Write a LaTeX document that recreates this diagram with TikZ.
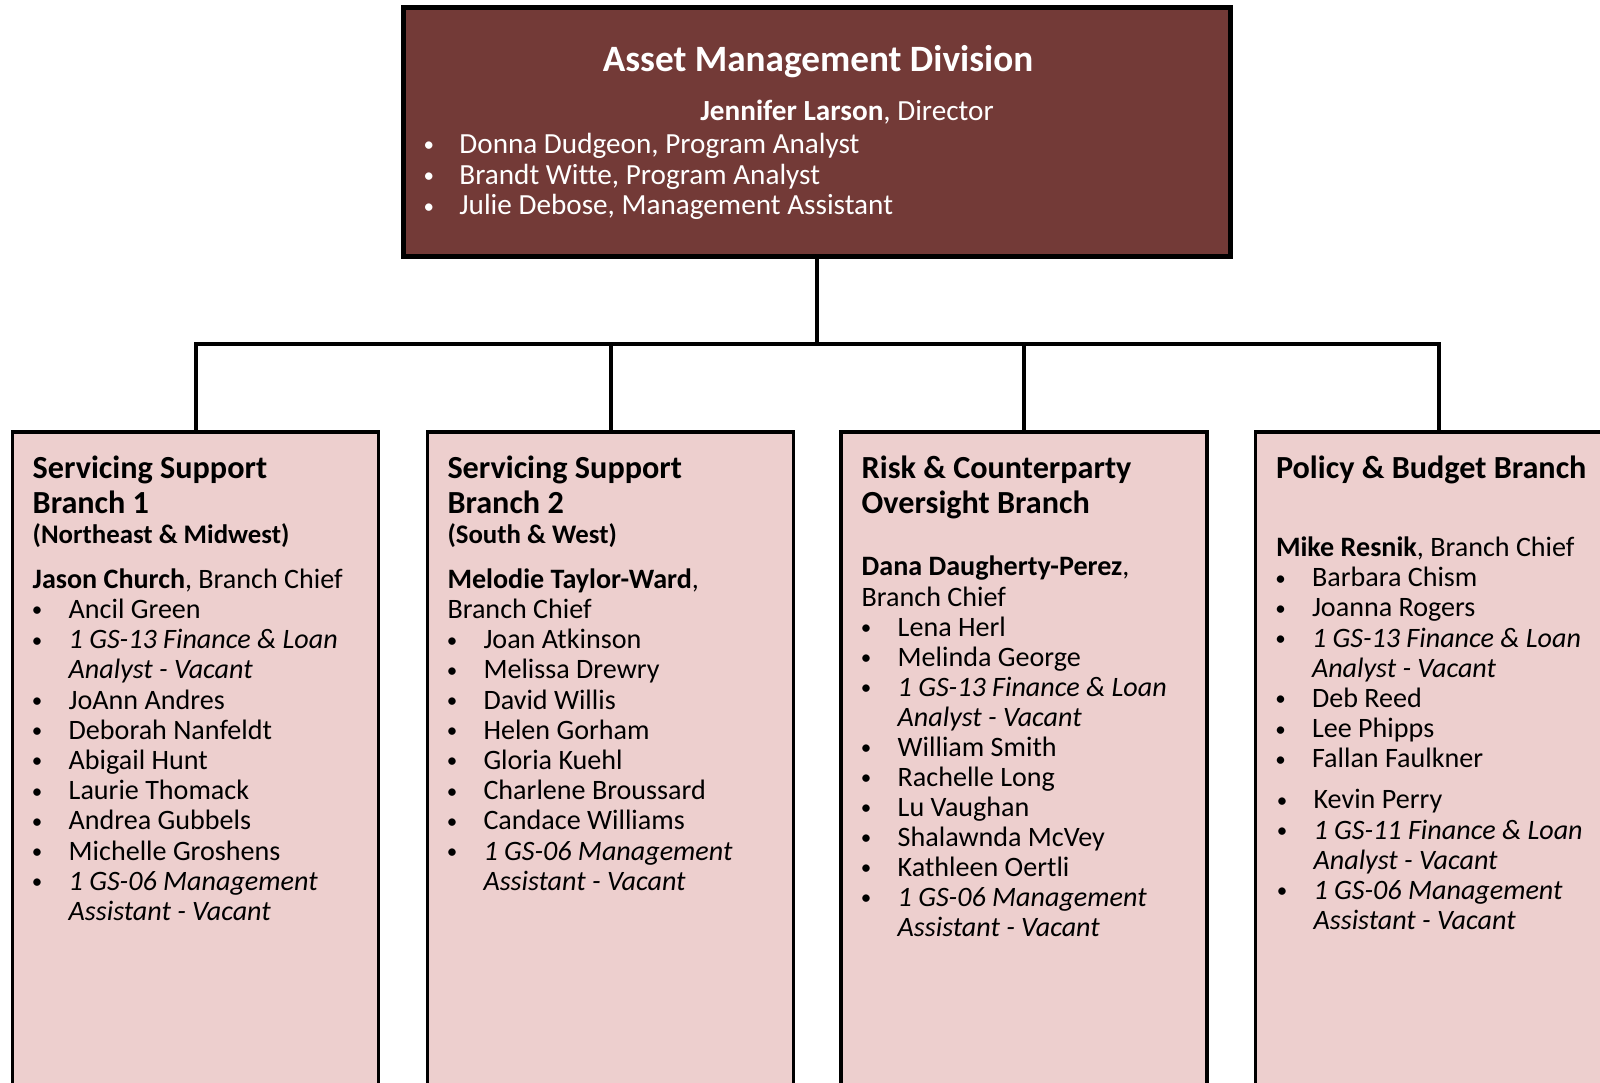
\documentclass[tikz,border=0pt]{standalone}
\usepackage{fontspec}
\setmainfont[Ligatures=NoCommon]{Carlito}
\definecolor{topfill}{HTML}{733A37}
\definecolor{branchfill}{HTML}{EDCFCE}
\newcommand\bodyf{\fontsize{28.1}{30}\selectfont}
\newcommand\headf{\fontsize{32.2}{34}\selectfont\bfseries}
\newcommand\subf{\fontsize{26.8}{30}\selectfont\bfseries}
\newcommand\topbodyf{\fontsize{29.2}{31}\selectfont}
\newcommand\titlef{\fontsize{37.2}{40}\selectfont\bfseries}
\newcommand\bulf{\fontsize{21}{24}\selectfont}
\newcommand\bul{\raisebox{1.6pt}{\bulf •}}
\newcounter{tl}
\newcommand\txtline[3]{\stepcounter{tl}\edef\nm{t\arabic{tl}}\node[txtnode] (\nm) at (#1,#2) {#3};}
\newcommand\headline[3]{\stepcounter{tl}\edef\nm{t\arabic{tl}}\node[txtnode,font=\headf] (\nm) at (#1,#2) {#3};}
\newcommand\subline[3]{\stepcounter{tl}\edef\nm{t\arabic{tl}}\node[txtnode,font=\subf] (\nm) at (#1,#2) {#3};}
\newcommand\bulline[3]{\stepcounter{tl}\edef\nm{t\arabic{tl}}\node[bulnode] (\nm) at (#1+4.5,#2) {\bul};%
  \stepcounter{tl}\edef\nm{t\arabic{tl}}\node[txtnode] (\nm) at (#1+36,#2) {#3};}
\newcommand\contline[3]{\stepcounter{tl}\edef\nm{t\arabic{tl}}\node[txtnode] (\nm) at (#1+36,#2) {#3};}
\begin{document}
\begin{tikzpicture}[x=1pt,y=-1pt,
  txtnode/.style={anchor=base west,inner sep=0pt,outer sep=0pt,font=\bodyf,text=black,yshift=-1.5pt},
  bulnode/.style={anchor=base,inner sep=0pt,outer sep=0pt,font=\bodyf,text=black,yshift=-1.5pt},
  toptext/.style={inner sep=0pt,outer sep=0pt,font=\topbodyf,text=white,yshift=-1.5pt},
  topbox/.style={draw=black,line width=5pt,fill=topfill,minimum width=827pt,minimum height=249pt,inner sep=0pt},
  branchbox/.style={draw=black,line width=3.5pt,fill=branchfill,minimum width=366pt,minimum height=688pt,inner sep=0pt},
  conn/.style={draw=black,line width=4pt,line join=miter}]
\useasboundingbox (0,0) rectangle (1600,1082);
\clip (0,0) rectangle (1600,1082);
\fill[white] (0,0) rectangle (1600,1082);
% boxes
\node[topbox] (top) at (817,131.5) {};
\node[branchbox] (b1) at (195.7,776) {};
\node[branchbox] (b2) at (610.6,776) {};
\node[branchbox] (b3) at (1024,776) {};
\node[branchbox] (b4) at (1438.5,776) {};
% connectors
\coordinate (bus) at (0,344);
\draw[conn] (top.south) -- (top.south |- bus);
\draw[conn] (b1.north) -- (b1.north |- bus) -- (b4.north |- bus) -- (b4.north);
\draw[conn] (b2.north) -- (b2.north |- bus);
\draw[conn] (b3.north) -- (b3.north |- bus);
% top box text
\node[toptext,anchor=base,font=\titlef] (title) at (818,70) {Asset Management Division};
\node[toptext,anchor=base] (dir) at (847,119.3) {\textbf{Jennifer Larson}, Director};
\node[toptext,anchor=base] (tb1) at (428.8,151.7) {\bul};
\node[toptext,anchor=base west] (tt1) at (459.4,151.7) {Donna Dudgeon, Program Analyst};
\node[toptext,anchor=base] (tb2) at (428.8,182.7) {\bul};
\node[toptext,anchor=base west] (tt2) at (459.4,182.7) {Brandt Witte, Program Analyst};
\node[toptext,anchor=base] (tb3) at (428.8,213.3) {\bul};
\node[toptext,anchor=base west] (tt3) at (459.4,213.3) {Julie Debose, Management Assistant};
% box 1
\headline{32.7}{477.3}{Servicing Support}
\headline{32.7}{511.7}{Branch 1}
\subline{32.7}{541.7}{(Northeast \& Midwest)}
\txtline{32.7}{586.7}{\textbf{Jason Church}, Branch Chief}
\bulline{32.7}{616.9}{Ancil Green}
\bulline{32.7}{647.1}{\itshape 1 GS-13 Finance \& Loan}
\contline{32.7}{677.3}{\itshape Analyst - Vacant}
\bulline{32.7}{707.5}{JoAnn Andres}
\bulline{32.7}{737.7}{Deborah Nanfeldt}
\bulline{32.7}{767.9}{Abigail Hunt}
\bulline{32.7}{798.1}{Laurie Thomack}
\bulline{32.7}{828.3}{Andrea Gubbels}
\bulline{32.7}{858.5}{Michelle Groshens}
\bulline{32.7}{888.7}{\itshape 1 GS-06 Management}
\contline{32.7}{918.9}{\itshape Assistant - Vacant}
% box 2
\headline{447.5}{477.3}{Servicing Support}
\headline{447.5}{511.7}{Branch 2}
\subline{447.5}{541.7}{(South \& West)}
\txtline{447.5}{586.7}{\textbf{Melodie Taylor-Ward},}
\txtline{447.5}{616.9}{Branch Chief}
\bulline{447.5}{647.1}{Joan Atkinson}
\bulline{447.5}{677.3}{Melissa Drewry}
\bulline{447.5}{707.5}{David Willis}
\bulline{447.5}{737.7}{Helen Gorham}
\bulline{447.5}{767.9}{Gloria Kuehl}
\bulline{447.5}{798.1}{Charlene Broussard}
\bulline{447.5}{828.3}{Candace Williams}
\bulline{447.5}{858.5}{\itshape 1 GS-06 Management}
\contline{447.5}{888.7}{\itshape Assistant - Vacant}
% box 3
\headline{861.7}{477.3}{Risk \& Counterparty}
\headline{861.7}{511.7}{Oversight Branch}
\txtline{861.7}{574}{\textbf{Dana Daugherty-Perez},}
\txtline{861.7}{605}{Branch Chief}
\bulline{861.7}{635}{Lena Herl}
\bulline{861.7}{665}{Melinda George}
\bulline{861.7}{695}{\itshape 1 GS-13 Finance \& Loan}
\contline{861.7}{725}{\itshape Analyst - Vacant}
\bulline{861.7}{755}{William Smith}
\bulline{861.7}{785}{Rachelle Long}
\bulline{861.7}{815}{Lu Vaughan}
\bulline{861.7}{845}{Shalawnda McVey}
\bulline{861.7}{875}{Kathleen Oertli}
\bulline{861.7}{905}{\itshape 1 GS-06 Management}
\contline{861.7}{935}{\itshape Assistant - Vacant}
% box 4
\headline{1276}{477.3}{Policy \& Budget Branch}
\txtline{1276}{555}{\textbf{Mike Resnik}, Branch Chief}
\bulline{1276}{585.2}{Barbara Chism}
\bulline{1276}{615.4}{Joanna Rogers}
\bulline{1276}{645.6}{\itshape 1 GS-13 Finance \& Loan}
\contline{1276}{675.8}{\itshape Analyst - Vacant}
\bulline{1276}{706}{Deb Reed}
\bulline{1276}{736.2}{Lee Phipps}
\bulline{1276}{766.4}{Fallan Faulkner}
\bulline{1277.6}{807.3}{Kevin Perry}
\bulline{1277.6}{837.5}{\itshape 1 GS-11 Finance \& Loan}
\contline{1277.6}{867.7}{\itshape Analyst - Vacant}
\bulline{1277.6}{897.9}{\itshape 1 GS-06 Management}
\contline{1277.6}{928.1}{\itshape Assistant - Vacant}
\end{tikzpicture}
\end{document}
